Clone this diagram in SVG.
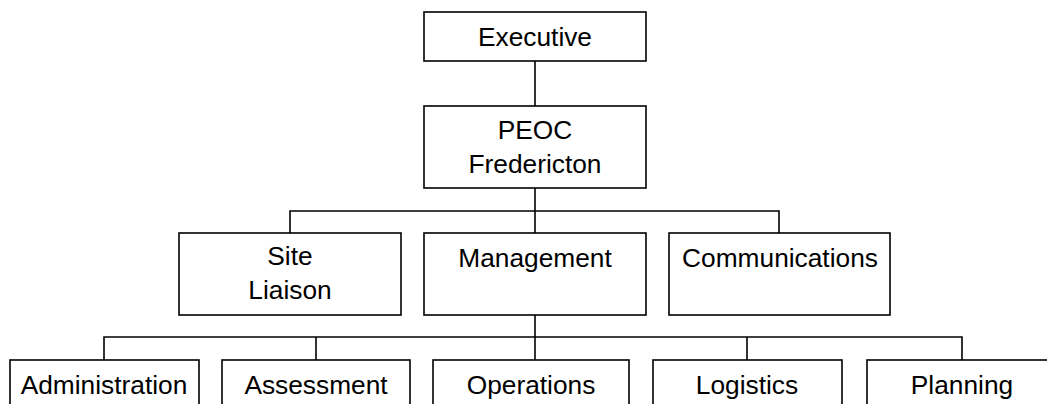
<svg xmlns="http://www.w3.org/2000/svg" width="1047" height="404" viewBox="0 0 1047 404">
<style>
.box{fill:#fff;stroke:#000;stroke-width:1.6}
.lbl{font-family:"Liberation Sans",Arial,sans-serif;font-size:26.3px;fill:#000;text-anchor:middle}
.wire{fill:none;stroke:#000;stroke-width:1.6}
</style>
<rect width="1047" height="404" fill="#fff"/>
<g id="connectors" class="wire">
<path d="M535 61V106"/>
<path d="M535 188V233"/>
<path d="M290 233V211H779V233"/>
<path d="M535 315V360"/>
<path d="M104 360V337H962V360"/>
<path d="M316 337V360"/>
<path d="M747 337V360"/>
</g>
<g id="executive"><rect class="box" x="424" y="12" width="222" height="49"/><text class="lbl" x="535" y="46">Executive</text></g>
<g id="peoc"><rect class="box" x="424" y="106" width="222" height="82"/><text class="lbl" x="535" y="139">PEOC</text><text class="lbl" x="535" y="173">Fredericton</text></g>
<g id="site-liaison"><rect class="box" x="179" y="233" width="222" height="82"/><text class="lbl" x="290" y="265">Site</text><text class="lbl" x="290" y="299">Liaison</text></g>
<g id="management"><rect class="box" x="424" y="233" width="222" height="82"/><text class="lbl" x="535" y="267">Management</text></g>
<g id="communications"><rect class="box" x="669" y="233" width="221" height="82"/><text class="lbl" x="780" y="267">Communications</text></g>
<g id="administration"><rect class="box" x="10" y="360" width="189" height="80"/><text class="lbl" x="104" y="394">Administration</text></g>
<g id="assessment"><rect class="box" x="222" y="360" width="188" height="80"/><text class="lbl" x="316" y="394">Assessment</text></g>
<g id="operations"><rect class="box" x="433" y="360" width="196" height="80"/><text class="lbl" x="531" y="394">Operations</text></g>
<g id="logistics"><rect class="box" x="653" y="360" width="189" height="80"/><text class="lbl" x="747" y="394">Logistics</text></g>
<g id="planning"><rect class="box" x="867" y="360" width="190" height="80"/><text class="lbl" x="962" y="394">Planning</text></g>
</svg>
